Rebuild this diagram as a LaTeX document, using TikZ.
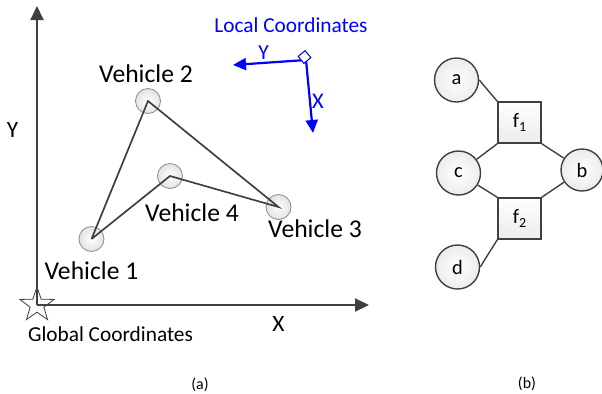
\documentclass[tikz,border=0pt]{standalone}
\usepackage{fontspec}
\setmainfont{Carlito}
\usetikzlibrary{arrows.meta,shapes.geometric}
\definecolor{ax}{HTML}{404040}
\definecolor{vc}{HTML}{8A8A8A}
\definecolor{lb}{RGB}{0,0,255}
\tikzset{
  axisline/.style={draw=ax,line width=2bp,-{Triangle[length=14bp,width=13bp]}},
  blueax/.style={draw=lb,line width=2.2bp,-{Triangle[length=13bp,width=12bp]}},
  veh/.style={circle,draw=vc,line width=0.8bp,inner color=white,outer color=gray!22,minimum size=25bp,inner sep=0},
  link/.style={draw=ax,line width=1.7bp},
  vlab/.style={font=\fontsize{25.7}{25.7}\selectfont,inner sep=0,anchor=base},
  axlab/.style={font=\fontsize{23.5}{23.5}\selectfont,inner sep=0,anchor=base},
  gnode/.style={circle,draw=ax,line width=1.4bp,inner color=white,outer color=gray!15,minimum size=44bp,inner sep=0,font=\fontsize{20.5}{20.5}\selectfont},
  fbox/.style={rectangle,draw=ax,line width=1.4bp,top color=white,bottom color=gray!15,minimum width=43bp,minimum height=41bp,inner sep=0,font=\fontsize{20.5}{20.5}\selectfont},
  gedge/.style={draw=ax,line width=1.4bp},
  caplab/.style={font=\fontsize{16}{16}\selectfont,inner sep=0}
}
\newcommand{\subnum}[1]{\raisebox{-0.4ex}{\fontsize{14}{14}\selectfont #1}}
\begin{document}
\begin{tikzpicture}[x=1bp,y=-1bp]
\useasboundingbox (0,0) rectangle (602,393);
% star and global axes
\node (star) [star,star points=5,star point ratio=2.5,minimum size=36bp,inner sep=0,draw=ax,line width=0.8bp,fill=gray!4] at (37,305) {};
\coordinate (O) at (37,305);
\coordinate (ytip) at (37,6);
\coordinate (xtip) at (369,305);
\draw[axisline] (O) -- (ytip);
\draw[axisline] (O) -- (xtip);
\node (ylab) [axlab] at (12.5,137) {Y};
\node (xlab) [axlab] at (278.5,331.5) {X};
\node (glab) [inner sep=0,anchor=base,font=\fontsize{21.4}{21.4}\selectfont] at (110.5,341) {Global Coordinates};
% vehicles
\node (v1) [veh] at (91.5,239) {};
\node (v2) [veh] at (148,101) {};
\node (v3) [veh] at (278.5,207) {};
\node (v4) [veh] at (170,176) {};
\draw[link] (v1.center) -- (v2.center) -- (v3.center) -- (v4.center) -- (v1.center);
\node (l1) [vlab] at (91.5,279) {Vehicle 1};
\node (l2) [vlab] at (146,82) {Vehicle 2};
\node (l3) [vlab] at (315,237.5) {Vehicle 3};
\node (l4) [vlab] at (192,221.5) {Vehicle 4};
% local coordinates
\coordinate (lo) at (306,60);
\coordinate (ly) at (233,65);
\coordinate (lx) at (313,133);
\draw[blueax] (lo) -- (ly);
\draw[blueax] (lo) -- (lx);
\node (ra) [draw=lb,line width=1bp,fill=white,rotate=40,minimum size=9bp,inner sep=0] at (304.5,57) {};
\node (lyl) [axlab,text=lb,font=\fontsize{21.5}{21.5}\selectfont] at (263.5,59) {Y};
\node (lxl) [axlab,text=lb,font=\fontsize{22.5}{22.5}\selectfont] at (318,108) {X};
\node (loc) [inner sep=0,anchor=base,text=lb,font=\fontsize{21.4}{21.4}\selectfont] at (291,32.5) {Local Coordinates};
% factor graph (b)
\node (a) [gnode] at (456.5,80) {a};
\node (c) [gnode] at (458.5,173) {c};
\node (b) [gnode,minimum size=42bp] at (582,170) {b};
\node (d) [gnode] at (457.5,267) {d};
\node (f1) [fbox] at (519.5,122.5) {f\subnum{1}};
\node (f2) [fbox] at (519.5,218.5) {f\subnum{2}};
\draw[gedge] (a.east) -- (f1.north west);
\draw[gedge] (c) -- (f1.south west);
\draw[gedge] (b) -- (f1.south east);
\draw[gedge] (c) -- (f2.north west);
\draw[gedge] (b) -- (f2.north east);
\draw[gedge] (d.east) -- (f2.south west);
% captions
\node (capa) [caplab] at (200,385) {(a)};
\node (capb) [caplab] at (527,384) {(b)};
\end{tikzpicture}
\end{document}
